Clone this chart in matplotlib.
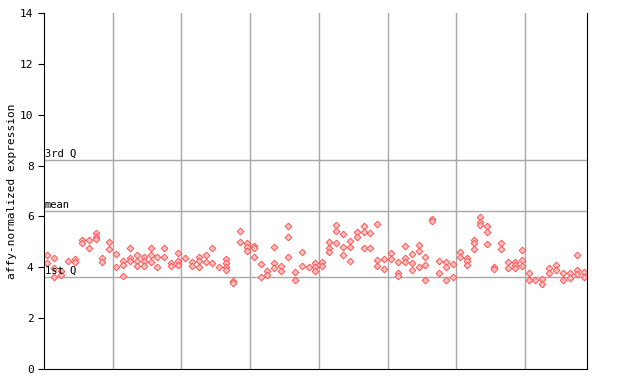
import matplotlib.pyplot as plt

# column (sample) index and expression value of every point
sample = [0, 0, 1, 1, 1, 2, 2, 3, 4, 4, 5, 5, 6, 6, 7, 7, 7, 8, 8, 9, 9,
          10, 10, 11, 11, 11, 12, 12, 12, 13, 13, 13, 14, 14, 14, 15, 15, 15,
          16, 16, 17, 17, 18, 18, 19, 19, 19, 20, 21, 21, 22, 22, 22, 23, 23,
          24, 24, 25, 26, 26, 26, 26, 27, 27, 28, 28, 29, 29, 29, 30, 30, 30,
          31, 31, 32, 32, 33, 33, 33, 34, 34, 35, 35, 35, 36, 36, 37, 37, 38,
          39, 39, 39, 40, 40, 41, 41, 41, 42, 42, 42, 43, 43, 43, 44, 44, 44,
          45, 45, 46, 46, 46, 47, 47, 48, 48, 48, 49, 49, 50, 50, 51, 51, 51,
          52, 52, 52, 53, 53, 53, 54, 54, 54, 55, 55, 55, 56, 56, 57, 57,
          58, 58, 58, 59, 59, 60, 60, 61, 61, 61, 62, 62, 62, 63, 63, 63,
          64, 64, 64, 65, 65, 66, 66, 67, 67, 68, 68, 68, 69, 69, 69, 70, 70,
          71, 72, 72, 73, 73, 74, 74, 75, 75, 76, 76, 77, 77, 77, 78, 78]
expr = [4.48, 4.17, 4.36, 3.97, 3.62, 3.85, 3.70, 4.25, 4.33, 4.21, 5.07, 4.95,
        5.07, 4.76, 5.35, 5.19, 5.11, 4.36, 4.21, 4.99, 4.72,
        4.52, 4.01, 4.25, 4.09, 3.66, 4.76, 4.36, 4.25, 4.48, 4.25, 4.05,
        4.40, 4.25, 4.05, 4.76, 4.48, 4.21, 4.40, 4.01, 4.76, 4.40, 4.17, 4.05,
        4.56, 4.25, 4.09, 4.36, 4.21, 4.05, 4.40, 4.25, 4.01, 4.48, 4.21,
        4.76, 4.17, 4.01, 4.33, 4.17, 4.01, 3.89, 3.46, 3.38, 5.43, 4.99,
        4.95, 4.80, 4.64, 4.84, 4.76, 4.40,
        4.13, 3.62, 3.85, 3.70, 4.80, 4.17, 3.97, 4.05, 3.85, 5.62, 5.19, 4.40,
        3.81, 3.50, 4.60, 4.05, 4.01, 4.17, 4.01, 3.85, 4.21, 4.05,
        4.99, 4.76, 4.60, 5.66, 5.43, 4.95, 5.31, 4.80, 4.48, 5.03, 4.80, 4.25,
        5.39, 5.19, 5.62, 5.39, 4.76, 5.35, 4.76, 5.70, 4.29, 4.05, 4.33, 3.93,
        4.56, 4.33, 4.21, 3.78, 3.66,
        4.84, 4.36, 4.21, 4.52, 4.17, 3.89, 4.88, 4.64, 4.01, 4.40, 4.09, 3.50,
        5.90, 5.82, 4.25, 3.78, 4.21, 4.01, 3.50, 4.13, 3.62, 4.60, 4.40,
        4.36, 4.25, 4.09, 5.07, 4.95, 4.72, 5.98, 5.78, 5.66,
        5.62, 5.39, 4.92, 4.01, 3.93, 4.95, 4.72, 4.21, 3.97, 4.21, 4.09, 3.97,
        4.68, 4.29, 4.05, 3.78, 3.50,
        3.50, 3.54, 3.34, 3.97, 3.78, 4.09, 3.89, 3.78, 3.50, 3.78, 3.58,
        4.48, 3.89, 3.74, 3.81, 3.62]

group_edges = [10, 20, 30, 40, 50, 60, 70]
stat_names = ["3rd Q", "mean", "1st Q"]
stat_values = [8.22, 6.21, 3.62]

fig = plt.figure(figsize=(6.4, 3.84), dpi=100)
ax = fig.add_axes([0.06875, 0.039, 0.8484, 0.927])

for e in group_edges:
    ax.axvline(e, color="#a8a8a8", lw=1, zorder=1)
for name, v in zip(stat_names, stat_values):
    ax.axhline(v, color="#a8a8a8", lw=1, zorder=1)
    ax.text(0.1, v + 0.06, name, fontsize=7.5, family="DejaVu Sans Mono",
            va="bottom", ha="left", zorder=3)

xs = [s + 0.5 for s in sample]
ax.plot(xs, expr, linestyle="none", marker="D", markersize=3.4,
        markerfacecolor="#ffc0c0", markeredgecolor="#ff5555",
        markeredgewidth=0.7, zorder=2)

ax.set_xlim(0, 79)
ax.set_ylim(0, 14)
ax.set_yticks(range(0, 15, 2))
ax.set_xticks([])
ax.tick_params(axis="y", length=4, labelsize=8, direction="out")
for lab in ax.get_yticklabels():
    lab.set_family("DejaVu Sans Mono")
ax.spines["top"].set_visible(False)
ax.set_ylabel("affy-normalized expression", fontsize=8, family="DejaVu Sans Mono")
ax.yaxis.set_label_coords(-0.05, 0.5)

plt.savefig("out.png", dpi=100)
